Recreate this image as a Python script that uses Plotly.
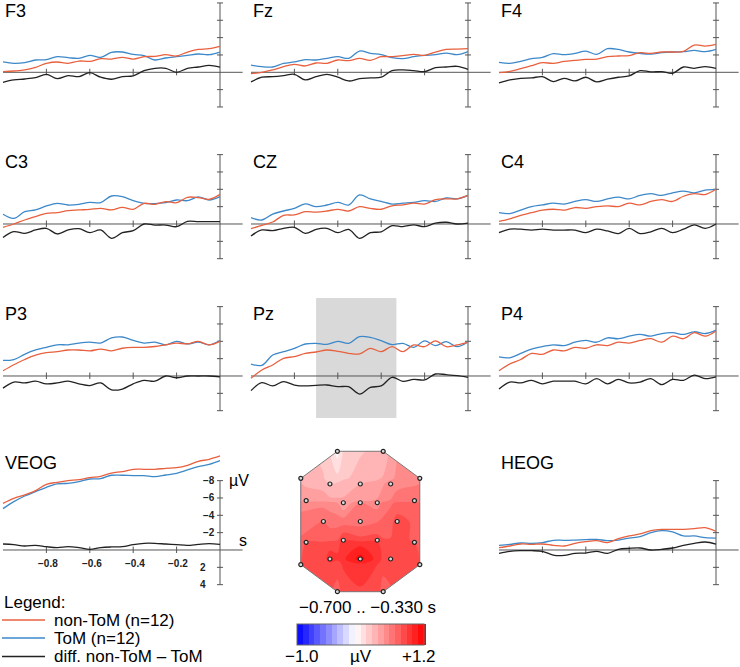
import plotly.graph_objects as go

W, H = 740, 667

# ---------------- data ----------------
T = [-1.0, -0.95, -0.9, -0.85, -0.8, -0.75, -0.7, -0.65, -0.6, -0.55, -0.5,
     -0.45, -0.4, -0.35, -0.3, -0.25, -0.2, -0.15, -0.1, -0.05, 0.0]

F3_NONTOM = [-0.08, -0.15, -0.27, -0.57, -1.03, -1.19, -1.03, -1.30, -1.26, -1.57, -1.53, -1.72, -1.53, -1.80, -1.84, -2.03, -1.88, -2.34, -2.64, -2.72, -2.99]
F3_TOM = [-1.19, -1.03, -1.11, -1.42, -1.46, -1.80, -1.69, -1.61, -1.95, -1.72, -2.30, -2.34, -2.07, -1.92, -1.42, -1.65, -1.80, -1.95, -2.11, -2.03, -2.34]
F3_DIFF = [1.15, 0.88, 0.77, 0.61, 0.23, 0.73, 0.38, 0.50, 0.04, 0.57, 0.80, 0.50, 0.42, -0.19, -0.46, -0.46, 0.0, -0.46, -0.61, -0.80, -0.61]

FZ_NONTOM = [0.15, 0.0, -0.27, -0.65, -0.92, -0.73, -1.07, -1.03, -1.42, -1.34, -1.61, -1.38, -1.80, -1.80, -1.92, -2.07, -1.95, -2.34, -2.64, -2.68, -2.72]
FZ_TOM = [-0.84, -0.65, -0.61, -1.03, -1.19, -1.46, -1.42, -1.61, -1.80, -1.61, -2.45, -2.18, -2.03, -1.69, -1.57, -1.80, -1.95, -2.03, -2.22, -2.03, -2.38]
FZ_DIFF = [1.11, 0.57, 0.50, 0.38, 0.23, 0.88, 0.50, 0.23, 0.57, 1.00, 0.73, 0.65, 0.57, -0.19, -0.27, -0.19, -0.08, -0.54, -0.61, -0.69, -0.34]

F4_NONTOM = [0.04, -0.11, -0.42, -0.77, -1.11, -1.03, -1.26, -1.38, -1.49, -1.53, -1.80, -1.88, -1.92, -2.26, -2.18, -2.34, -2.34, -2.41, -3.14, -3.03, -3.22]
F4_TOM = [-1.15, -1.03, -1.26, -1.57, -1.72, -2.15, -2.03, -2.18, -2.45, -2.07, -2.72, -2.64, -2.34, -2.18, -2.11, -2.26, -2.34, -2.38, -2.53, -2.38, -2.64]
F4_DIFF = [1.23, 0.88, 0.69, 0.65, 0.50, 1.07, 0.69, 1.00, 0.57, 1.11, 0.80, 0.57, 0.42, -0.19, -0.04, -0.08, 0.11, -0.61, -0.46, -0.65, -0.46]

C3_NONTOM = [0.38, 0.0, -0.46, -0.85, -1.23, -1.31, -1.54, -1.62, -1.69, -1.81, -1.62, -1.92, -1.69, -2.38, -2.27, -2.58, -2.46, -3.08, -3.04, -2.85, -3.42]
C3_TOM = [-1.12, -0.65, -1.42, -1.62, -2.08, -2.38, -2.19, -2.27, -2.50, -2.46, -3.23, -3.15, -2.69, -2.38, -2.35, -2.46, -2.77, -2.69, -3.12, -2.77, -3.15]
C3_DIFF = [1.55, 0.88, 1.08, 0.69, 0.50, 1.15, 0.69, 0.54, 1.00, 0.69, 1.65, 1.00, 0.77, 0.0, 0.12, 0.12, 0.31, -0.31, -0.27, -0.27, -0.27]

CZ_NONTOM = [0.54, 0.15, -0.23, -1.0, -1.04, -1.42, -1.38, -1.5, -1.69, -1.5, -2.0, -1.8, -1.7, -2.1, -2.2, -2.4, -2.3, -2.8, -2.9, -2.9, -3.3]
CZ_TOM = [-0.73, -0.46, -1.15, -1.5, -1.81, -2.31, -2.0, -2.19, -2.5, -2.19, -3.35, -2.9, -2.6, -2.3, -2.4, -2.5, -2.7, -2.6, -3.0, -2.9, -3.3]
CZ_DIFF = [1.38, 0.69, 0.77, 0.5, 0.38, 1.08, 0.62, 0.5, 1.0, 0.62, 1.65, 1.0, 0.9, 0.2, 0.3, 0.1, 0.3, -0.1, -0.2, 0.0, -0.1]

C4_NONTOM = [-0.3, -0.6, -1.0, -1.3, -1.6, -1.7, -1.6, -1.9, -1.8, -2.0, -2.1, -2.0, -2.4, -2.2, -2.6, -2.8, -2.6, -3.2, -3.5, -3.4, -4.0]
C4_TOM = [-1.3, -1.2, -1.6, -2.0, -2.2, -2.4, -2.3, -2.6, -2.8, -2.6, -2.9, -3.1, -2.9, -3.3, -3.5, -3.3, -3.6, -3.8, -3.6, -3.9, -4.0]
C4_DIFF = [1.0, 0.6, 0.6, 0.7, 0.6, 0.7, 0.7, 0.7, 1.0, 0.6, 0.8, 1.1, 0.5, 1.1, 0.9, 0.5, 1.0, 0.6, 0.1, 0.5, 0.0]

P3_NONTOM = [-0.6, -1.3, -1.9, -2.4, -2.7, -2.8, -3.0, -3.0, -2.9, -3.1, -2.9, -3.2, -3.3, -3.3, -3.4, -3.6, -3.8, -3.7, -4.0, -3.6, -4.0]
P3_TOM = [-1.8, -1.9, -2.5, -3.0, -3.3, -3.6, -3.6, -3.8, -3.9, -3.8, -4.4, -4.5, -4.1, -3.8, -3.9, -3.6, -4.0, -3.7, -3.9, -3.6, -4.1]
P3_DIFF = [1.4, 0.7, 0.8, 0.6, 0.9, 0.8, 0.6, 0.9, 1.1, 0.8, 1.6, 1.5, 0.9, 0.5, 0.6, 0.0, 0.2, 0.0, 0.0, 0.0, 0.1]

PZ_NONTOM = [0.27, -0.69, -1.27, -2.04, -2.23, -2.62, -2.77, -3.0, -2.85, -2.62, -2.54, -3.19, -2.81, -3.38, -2.81, -3.58, -3.38, -4.04, -3.38, -3.58, -3.88]
PZ_TOM = [-1.38, -1.23, -2.42, -2.81, -3.19, -3.69, -3.77, -3.65, -4.0, -3.77, -4.54, -4.46, -4.08, -3.62, -3.77, -3.31, -4.04, -3.5, -3.96, -3.38, -3.96]
PZ_DIFF = [1.69, 0.77, 1.15, 0.65, 1.04, 1.15, 1.08, 1.04, 1.23, 1.23, 2.08, 1.31, 1.15, 0.15, 0.62, 0.38, 0.46, -0.23, -0.15, -0.04, 0.15]

P4_NONTOM = [-0.6, -1.4, -1.9, -2.6, -2.5, -3.0, -2.9, -3.3, -3.2, -3.6, -3.5, -3.9, -3.8, -4.1, -4.3, -3.9, -4.6, -4.3, -5.0, -4.6, -5.2]
P4_TOM = [-2.2, -2.1, -2.6, -3.1, -3.4, -3.6, -3.5, -3.9, -4.1, -3.9, -4.4, -4.3, -4.6, -4.8, -4.6, -4.9, -5.0, -4.8, -5.1, -4.9, -5.3]
P4_DIFF = [1.5, 0.7, 0.8, 0.5, 0.9, 0.6, 0.6, 0.6, 0.9, 0.3, 0.9, 0.4, 0.8, 0.7, 0.3, 1.0, 0.4, 0.5, -0.1, 0.3, 0.1]

VEOG_NONTOM = [-5.38, -5.96, -6.35, -6.85, -7.58, -7.81, -8.0, -8.12, -8.35, -8.5, -8.88, -9.04, -9.31, -9.31, -9.31, -9.42, -9.5, -9.77, -10.23, -10.46, -10.85]
VEOG_TOM = [-4.77, -5.58, -6.23, -6.73, -7.23, -7.62, -7.69, -7.88, -8.19, -8.23, -8.62, -8.62, -8.58, -8.58, -8.46, -8.65, -8.85, -9.23, -9.62, -9.88, -10.31]
VEOG_DIFF = [-0.69, -0.62, -0.46, -0.54, -0.38, -0.27, -0.38, -0.27, -0.08, -0.27, -0.35, -0.38, -0.62, -0.77, -0.77, -0.69, -0.62, -0.54, -0.65, -0.73, -0.65]

HEOG_NONTOM = [-0.27, -0.46, -0.69, -0.65, -0.69, -0.54, -0.46, -0.77, -0.96, -1.08, -0.85, -1.31, -1.62, -1.85, -2.23, -2.38, -2.38, -2.38, -2.46, -2.58, -2.15]
HEOG_TOM = [-0.54, -0.65, -0.81, -0.77, -0.85, -1.12, -1.12, -1.15, -1.19, -1.23, -1.08, -1.15, -1.38, -1.54, -2.0, -2.23, -2.08, -1.62, -1.62, -1.42, -1.38]
HEOG_DIFF = [0.38, 0.15, 0.08, 0.08, 0.15, 0.58, 0.62, 0.38, 0.35, 0.15, 0.38, -0.08, -0.19, -0.23, 0.0, -0.08, -0.23, -0.54, -0.77, -0.92, -0.69]

PANEL_NAMES = ["F3", "Fz", "F4", "C3", "CZ", "C4", "P3", "Pz", "P4", "VEOG", "HEOG"]
SERIES_NAMES = ["non-ToM (n=12)", "ToM (n=12)", "diff. non-ToM \u2013 ToM"]

Y_TICKS = [-8, -6, -4, -2, 0, 2, 4]
X_TICKS = [-0.8, -0.6, -0.4, -0.2]
WINDOW = [-0.700, -0.330]   # shaded analysis window (s)

# topomap electrodes (first 8 = outline vertices, in ring order)
ELEC_X = [-0.385, 0.385, 1.0, 1.0, 0.385, -0.385, -1.0, -1.0,
          -0.51, 0.0, 0.51,
          -0.91, -0.285, 0.0, 0.285, 0.91,
          -0.62, 0.0, 0.62,
          -0.91, -0.285, 0.285, 0.91,
          -0.51, 0.0, 0.51]
ELEC_Y = [1.18, 1.18, 0.725, -0.725, -1.18, -1.18, -0.725, 0.725,
          0.63, 0.63, 0.63,
          0.35, 0.315, 0.315, 0.315, 0.35,
          0.0, 0.0, 0.0,
          -0.35, -0.315, -0.315, -0.35,
          -0.63, -0.63, -0.63]
ELEC_V = [0.05, 0.3, 0.55, 0.8, 0.75, 0.75, 0.8, 0.35,
          0.3, 0.4, 0.55,
          0.45, 0.4, 0.6, 0.55, 0.65,
          0.7, 0.65, 0.85,
          0.8, 0.9, 0.85, 0.8,
          0.95, 1.15, 0.85]
ZMIN, ZMAX, ZSTEP = -1.0, 1.2, 0.1

# ---------------- styling / layout ----------------
RED, BLUE, BLACK = "#e8603e", "#3d88c9", "#222222"
AXC = "#555555"
FONT = "Liberation Sans, Arial, sans-serif"

SERIES = {
    "F3": (F3_NONTOM, F3_TOM, F3_DIFF), "Fz": (FZ_NONTOM, FZ_TOM, FZ_DIFF),
    "F4": (F4_NONTOM, F4_TOM, F4_DIFF), "C3": (C3_NONTOM, C3_TOM, C3_DIFF),
    "CZ": (CZ_NONTOM, CZ_TOM, CZ_DIFF), "C4": (C4_NONTOM, C4_TOM, C4_DIFF),
    "P3": (P3_NONTOM, P3_TOM, P3_DIFF), "Pz": (PZ_NONTOM, PZ_TOM, PZ_DIFF),
    "P4": (P4_NONTOM, P4_TOM, P4_DIFF), "VEOG": (VEOG_NONTOM, VEOG_TOM, VEOG_DIFF),
    "HEOG": (HEOG_NONTOM, HEOG_TOM, HEOG_DIFF),
}

COL_X0 = [220, 468, 716]          # pixel x of time 0
ROW_Y0 = [72.3, 224, 376, 550]    # pixel y of 0 µV
POS = {"F3": (0, 0), "Fz": (1, 0), "F4": (2, 0), "C3": (0, 1), "CZ": (1, 1),
       "C4": (2, 1), "P3": (0, 2), "Pz": (1, 2), "P4": (2, 2),
       "VEOG": (0, 3), "HEOG": (2, 3)}
TITLE_DY = [61.3, 61.8, 62.5, 87.5]
SX, SY = 217.0, 8.67              # px per second, px per µV
XR = [-1.01, 0.105]


def px(x):
    return x / W


def py(y):
    return 1 - y / H


fig = go.Figure()
layout = {}
shapes = []
annotations = []

for n, name in enumerate(PANEL_NAMES, start=1):
    c, r = POS[name]
    X0, Y0 = COL_X0[c], ROW_Y0[r]
    yr = [-11.5, 5.0] if name == "VEOG" else [-8.3, 4.3]
    layout[f"xaxis{n}"] = dict(domain=[px(X0 + XR[0] * SX), px(X0 + XR[1] * SX)],
                               range=XR, visible=False, fixedrange=True,
                               anchor=f"y{n}")
    layout[f"yaxis{n}"] = dict(domain=[py(Y0 + yr[1] * SY), py(Y0 + yr[0] * SY)],
                               range=[yr[1], yr[0]], visible=False, fixedrange=True,
                               anchor=f"x{n}")
    xa, ya = f"x{n}", f"y{n}"

    if name == "Pz":
        shapes.append(dict(type="rect", xref=xa, yref="paper",
                           x0=WINDOW[0], x1=WINDOW[1], y0=py(418), y1=py(298),
                           fillcolor="#d9d9d9", line=dict(width=0), layer="below"))

    # axes
    shapes.append(dict(type="line", xref=xa, yref=ya, x0=T[0], x1=XR[1], y0=0, y1=0,
                       line=dict(color=AXC, width=1), layer="below"))
    shapes.append(dict(type="line", xref=xa, yref=ya, x0=0, x1=0,
                       y0=Y_TICKS[0], y1=Y_TICKS[-1],
                       line=dict(color=AXC, width=1), layer="below"))
    for yt in Y_TICKS:
        if yt == 0:
            continue
        shapes.append(dict(type="line", xref=xa, yref=ya, x0=-0.014, x1=0.014,
                           y0=yt, y1=yt, line=dict(color=AXC, width=1), layer="below"))
    for xt in X_TICKS:
        shapes.append(dict(type="line", xref=xa, yref=ya, x0=xt, x1=xt,
                           y0=-0.4, y1=0.35, line=dict(color=AXC, width=1), layer="below"))

    nt, tm, df = SERIES[name]
    for vals, col in ((df, BLACK), (tm, BLUE), (nt, RED)):
        fig.add_trace(go.Scatter(x=T, y=vals, xaxis=xa, yaxis=ya, mode="lines",
                                 line=dict(color=col, width=1.3, shape="spline",
                                           smoothing=1.0),
                                 showlegend=False, hoverinfo="skip"))

    annotations.append(dict(xref="paper", yref="paper",
                            x=px(X0 + T[0] * SX), y=py(Y0 - TITLE_DY[r]),
                            xanchor="left", yanchor="middle", showarrow=False,
                            text=name, font=dict(size=18, color="black", family=FONT)))

    if name == "VEOG":
        for yt in Y_TICKS:
            if yt == 0:
                continue
            lab = ("\u2212%d" % (-yt)) if yt < 0 else "%d" % yt
            annotations.append(dict(xref=xa, yref=ya, x=-0.014 if yt < 0 else -0.056,
                                    y=yt, xanchor="right", yanchor="middle",
                                    showarrow=False, text="<b>%s</b>" % lab,
                                    font=dict(size=10, color="#222", family=FONT)))
        for xt in X_TICKS:
            annotations.append(dict(xref=xa, yref=ya, x=xt + 0.008, y=1.6,
                                    xanchor="center", yanchor="middle", showarrow=False,
                                    text="<b>\u2212%.1f</b>" % (-xt),
                                    font=dict(size=10, color="#222", family=FONT)))
        annotations.append(dict(xref="paper", yref="paper", x=px(227), y=py(480),
                                xanchor="left", yanchor="middle", showarrow=False,
                                text="\u00b5V", font=dict(size=16, color="black", family=FONT)))
        annotations.append(dict(xref="paper", yref="paper", x=px(237), y=py(540),
                                xanchor="left", yanchor="middle", showarrow=False,
                                text="s", font=dict(size=16, color="black", family=FONT)))

# ---------------- topomap ----------------
tn = len(PANEL_NAMES) + 1
tx, ty = f"x{tn}", f"y{tn}"
TXR, TYR = 1.04, 1.23
layout[f"xaxis{tn}"] = dict(domain=[px(360.3 - TXR * 59.5), px(360.3 + TXR * 59.5)],
                            range=[-TXR, TXR], visible=False, fixedrange=True, anchor=ty)
layout[f"yaxis{tn}"] = dict(domain=[py(521.5 + TYR * 59.5), py(521.5 - TYR * 59.5)],
                            range=[-TYR, TYR], visible=False, fixedrange=True, anchor=tx)

fig.add_trace(go.Contour(
    x=ELEC_X, y=ELEC_Y, z=ELEC_V, xaxis=tx, yaxis=ty,
    zmin=ZMIN, zmax=ZMAX, autocontour=False,
    contours=dict(start=ZMIN, end=ZMAX, size=ZSTEP, coloring="fill", showlines=False),
    line=dict(width=0),
    colorscale=[[0.0, "rgb(0,0,255)"], [(0 - ZMIN) / (ZMAX - ZMIN), "rgb(255,255,255)"],
                [1.0, "rgb(255,0,0)"]],
    colorbar=dict(orientation="h", x=px(360.5), xanchor="center",
                  y=py(634.5), yanchor="middle", len=127, lenmode="pixels",
                  thickness=21, thicknessmode="pixels", xpad=0, ypad=0,
                  outlinewidth=1, outlinecolor="#666", showticklabels=False, ticks=""),
    hoverinfo="skip",
))

# white fills masking the corners outside the octagon (drawn under outline + dots)
nv = 8
for i in range(nv):
    ax_, ay_ = ELEC_X[i], ELEC_Y[i]
    bx_, by_ = ELEC_X[(i + 1) % nv], ELEC_Y[(i + 1) % nv]
    if abs(ax_ - bx_) < 1e-9 or abs(ay_ - by_) < 1e-9:
        continue
    ex, ey = (bx_ - ax_) * 0.15, (by_ - ay_) * 0.15
    ox = 1.3 if (ax_ + bx_) > 0 else -1.3
    oy = 1.5 if (ay_ + by_) > 0 else -1.5
    fig.add_trace(go.Scatter(x=[ax_ - ex, bx_ + ex, ox, ax_ - ex],
                             y=[ay_ - ey, by_ + ey, oy, ay_ - ey],
                             xaxis=tx, yaxis=ty, mode="lines", fill="toself",
                             fillcolor="white", line=dict(width=0, color="white"),
                             showlegend=False, hoverinfo="skip"))

fig.add_trace(go.Scatter(x=ELEC_X[:nv] + [ELEC_X[0]], y=ELEC_Y[:nv] + [ELEC_Y[0]],
                         xaxis=tx, yaxis=ty, mode="lines",
                         line=dict(color="#7a7a7a", width=1),
                         showlegend=False, hoverinfo="skip", cliponaxis=False))
fig.add_trace(go.Scatter(x=ELEC_X, y=ELEC_Y, xaxis=tx, yaxis=ty, mode="markers",
                         marker=dict(size=4, color="#dddddd",
                                     line=dict(color="#222", width=1.2)),
                         showlegend=False, hoverinfo="skip", cliponaxis=False))

annotations.append(dict(xref="paper", yref="paper", x=px(367), y=py(607),
                        xanchor="center", yanchor="middle", showarrow=False,
                        text="\u2212%.3f .. \u2212%.3f s" % (-WINDOW[0], -WINDOW[1]),
                        font=dict(size=17, color="black", family=FONT)))
annotations.append(dict(xref="paper", yref="paper", x=px(302), y=py(656),
                        xanchor="center", yanchor="middle", showarrow=False,
                        text="\u2212%.1f" % (-ZMIN),
                        font=dict(size=17, color="black", family=FONT)))
annotations.append(dict(xref="paper", yref="paper", x=px(361), y=py(656),
                        xanchor="center", yanchor="middle", showarrow=False,
                        text="\u00b5V", font=dict(size=17, color="black", family=FONT)))
annotations.append(dict(xref="paper", yref="paper", x=px(419), y=py(656),
                        xanchor="center", yanchor="middle", showarrow=False,
                        text="+%.1f" % ZMAX,
                        font=dict(size=17, color="black", family=FONT)))

# ---------------- legend ----------------
annotations.append(dict(xref="paper", yref="paper", x=px(2), y=py(602),
                        xanchor="left", yanchor="middle", showarrow=False,
                        text="Legend:", font=dict(size=17, color="black", family=FONT)))
for i, (lab, col) in enumerate(zip(SERIES_NAMES, (RED, BLUE, BLACK))):
    yy = [620, 638, 656.5][i]
    shapes.append(dict(type="line", xref="paper", yref="paper", x0=px(2), x1=px(45),
                       y0=py(yy), y1=py(yy), line=dict(color=col, width=1.3)))
    annotations.append(dict(xref="paper", yref="paper", x=px(52), y=py(yy),
                            xanchor="left", yanchor="middle", showarrow=False,
                            text=lab, font=dict(size=17, color="black", family=FONT)))

fig.update_layout(width=W, height=H, margin=dict(l=0, r=0, t=0, b=0, pad=0),
                  paper_bgcolor="white", plot_bgcolor="rgba(0,0,0,0)",
                  showlegend=False, shapes=shapes, annotations=annotations,
                  font=dict(family=FONT), **layout)

fig.write_html("out.html",
               config={"displayModeBar": False},
               post_script="document.body.style.margin='0px';"
                           "document.body.style.padding='0px';"
                           "document.body.style.overflow='hidden';")
